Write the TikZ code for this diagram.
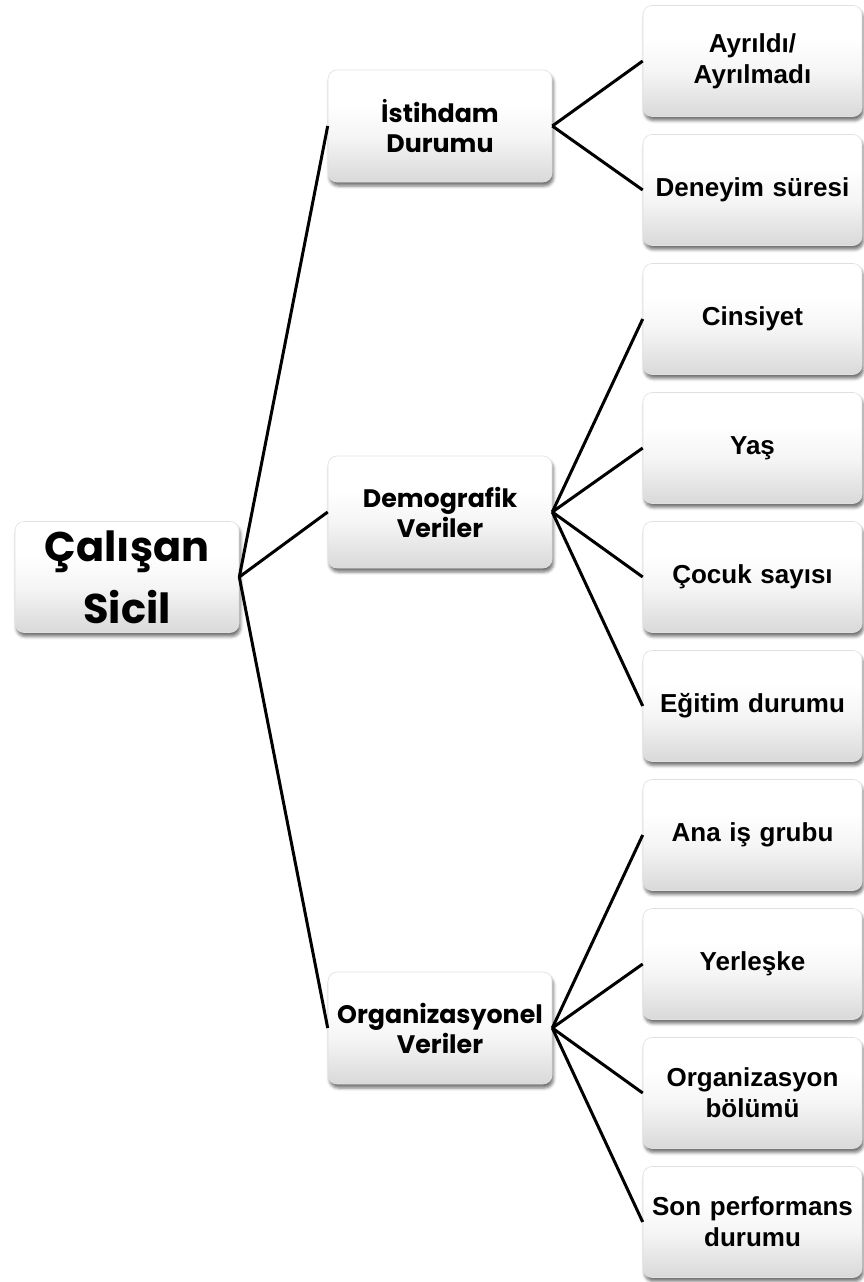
\documentclass[tikz,border=0pt]{standalone}
\usepackage{fontspec}
\setmainfont{Liberation Sans}
\newfontfamily\popfont{Poppins}
\usetikzlibrary{shadows.blur}

% soft vertical fill: white above, light grey towards the bottom edge
\pgfdeclareverticalshading{boxshade}{100bp}{%
  color(0bp)=(black!15); color(25bp)=(black!15); color(45bp)=(black!4);
  color(60bp)=(white); color(100bp)=(white)}

\tikzset{
  card/.style={rectangle, rounded corners=9pt, draw=black!12, line width=0.6pt,
    shading=boxshade, align=center, inner sep=1pt,
    blur shadow={shadow xshift=1.5pt, shadow yshift=-4pt,
      shadow blur radius=3pt, shadow opacity=55}},
  rootbox/.style={card, minimum width=224pt, minimum height=111pt,
    font=\popfont\bfseries\fontsize{41.5}{62}\selectfont},
  midbox/.style={card, minimum width=224pt, minimum height=112pt, text width=220pt,
    font=\popfont\bfseries\fontsize{25.3}{30}\selectfont},
  leafbox/.style={card, minimum width=219pt, minimum height=111pt, text width=216pt,
    font=\bfseries\fontsize{26}{31}\selectfont},
  link/.style={line width=3pt, black, line join=miter}
}

\begin{document}
\begin{tikzpicture}[x=1pt,y=-1pt]
\useasboundingbox (0,0) rectangle (864,1282);

% root
\node[rootbox] (root) at (127,577) {Çalışan\\Sicil};

% second level
\node[midbox] (ist) at (440,126)  {İstihdam\\Durumu};
\node[midbox] (dem) at (440,512)  {Demografik\\Veriler};
\node[midbox] (org) at (440,1028) {Organizasyonel\\Veriler};

% leaves
\node[leafbox] (ayr) at (752.5,61)   {Ayrıldı/\\Ayrılmadı};
\node[leafbox] (den) at (752.5,190)  {Deneyim süresi};
\node[leafbox] (cin) at (752.5,319)  {Cinsiyet};
\node[leafbox] (yas) at (752.5,448)  {Yaş};
\node[leafbox] (coc) at (752.5,577)  {Çocuk sayısı};
\node[leafbox] (egi) at (752.5,706)  {Eğitim durumu};
\node[leafbox] (ana) at (752.5,835)  {Ana iş grubu};
\node[leafbox] (yer) at (752.5,964)  {Yerleşke};
\node[leafbox] (obl) at (752.5,1093) {Organizasyon\\bölümü};
\node[leafbox] (son) at (752.5,1222) {Son performans\\durumu};

% connectors
\foreach \m in {ist,dem,org} \draw[link] (root.east) -- (\m.west);
\foreach \l in {ayr,den} \draw[link] (ist.east) -- (\l.west);
\foreach \l in {cin,yas,coc,egi} \draw[link] (dem.east) -- (\l.west);
\foreach \l in {ana,yer,obl,son} \draw[link] (org.east) -- (\l.west);
\end{tikzpicture}
\end{document}
